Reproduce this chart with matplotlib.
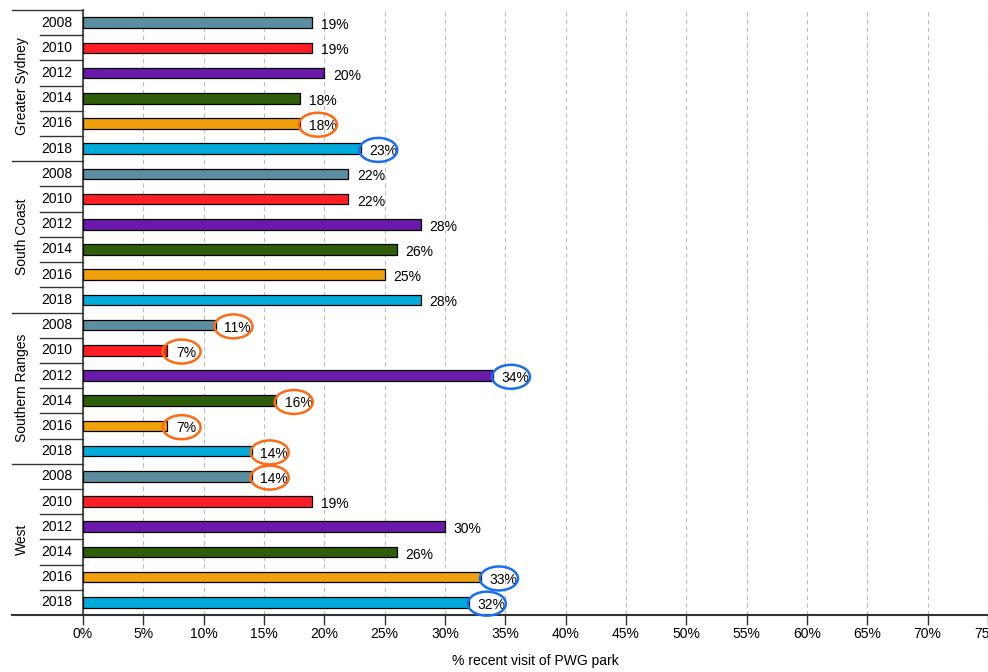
import numpy as np
import matplotlib
matplotlib.use('Agg')
import matplotlib.pyplot as plt
from matplotlib.patches import Ellipse
from matplotlib.transforms import blended_transform_factory

plt.rcParams['font.family'] = ['Liberation Sans', 'DejaVu Sans']

######## data ########
regions = ['Greater Sydney', 'South Coast', 'Southern Ranges', 'West']
years = ['2008', '2010', '2012', '2014', '2016', '2018']
sydney = [19, 19, 20, 18, 18, 23]
south_coast = [22, 22, 28, 26, 25, 28]
southern_ranges = [11, 7, 34, 16, 7, 14]
west = [14, 19, 30, 26, 33, 32]
year_colors = ['#5a8ea0', '#ff1e26', '#6a1aaa', '#2e5e0a', '#f0a00a', '#00aadb']

# highlighted labels: (region index, year index)
orange_marks = [(0, 4), (2, 0), (2, 1), (2, 3), (2, 4), (2, 5), (3, 0)]
blue_marks = [(0, 5), (2, 2), (3, 4), (3, 5)]

xticks = list(range(0, 80, 5))
xlabel = '% recent visit of PWG park'

######## plot ########
fig = plt.figure(figsize=(9.88, 6.72), dpi=100)
ax = fig.add_axes([83 / 988, 1 - 615 / 672, 905 / 988, (615 - 10) / 672])

all_vals = [sydney, south_coast, southern_ranges, west]
n = len(years)
pos = 0
for g, vals in enumerate(all_vals):
    for i, v in enumerate(vals):
        ax.barh(pos, v, height=0.42, color=year_colors[i], edgecolor='black', linewidth=0.9, zorder=3)
        ax.text(v + 0.7, pos + 0.1, '%d%%' % v, va='center', ha='left', fontsize=10, zorder=4)
        pos += 1

ax.set_xlim(0, 75)
ax.set_ylim(pos - 0.5, -0.5)

ax.set_xticks(xticks)
ax.set_xticklabels(['%d%%' % t for t in xticks], fontsize=10)
ax.tick_params(axis='x', direction='out', length=7, width=1, color='#333333', pad=2)
ax.set_yticks([])
ax.grid(axis='x', linestyle=(0, (4, 3)), color='#bdbdbd', linewidth=0.8, zorder=0)
ax.set_xlabel(xlabel, fontsize=10, labelpad=9)

for s in ['top', 'right']:
    ax.spines[s].set_visible(False)
ax.spines['left'].set_color('#333333')
ax.spines['left'].set_linewidth(1.2)
ax.spines['bottom'].set_color('#333333')
ax.spines['bottom'].set_linewidth(1.5)

# left side labels and separators
tr = blended_transform_factory(ax.transAxes, ax.transData)
x_year_line = (40 - 83) / 905
x_grp_line = (12 - 83) / 905
ax.plot([x_grp_line, 0], [pos - 0.5, pos - 0.5], transform=tr, color='#333333', lw=1.5, clip_on=False)
for g, name in enumerate(regions):
    top = g * n - 0.5
    ax.plot([x_grp_line, 0], [top, top], transform=tr, color='#333333', lw=1.0, clip_on=False)
    ax.text((22 - 83) / 905, g * n + (n - 1) / 2, name, rotation=90, ha='center', va='center',
            fontsize=10, transform=tr)
    for i, yr in enumerate(years):
        y = g * n + i
        ax.text((57 - 83) / 905, y, yr, ha='center', va='center', fontsize=10, transform=tr)
        if i > 0:
            ax.plot([x_year_line, 0], [y - 0.5, y - 0.5], transform=tr, color='#333333', lw=1.0,
                    clip_on=False)

# ellipses around highlighted labels
for marks, col in [(orange_marks, '#ff6a13'), (blue_marks, '#1a6ef5')]:
    for g, i in marks:
        v = all_vals[g][i]
        half = 0.62 if v < 10 else 0.92
        e = Ellipse((v + 0.55 + half, g * n + i + 0.05), width=3.15, height=0.95, fill=False,
                    edgecolor=col, linewidth=1.8, zorder=5, clip_on=False)
        ax.add_patch(e)

fig.savefig('out.png', dpi=100)
